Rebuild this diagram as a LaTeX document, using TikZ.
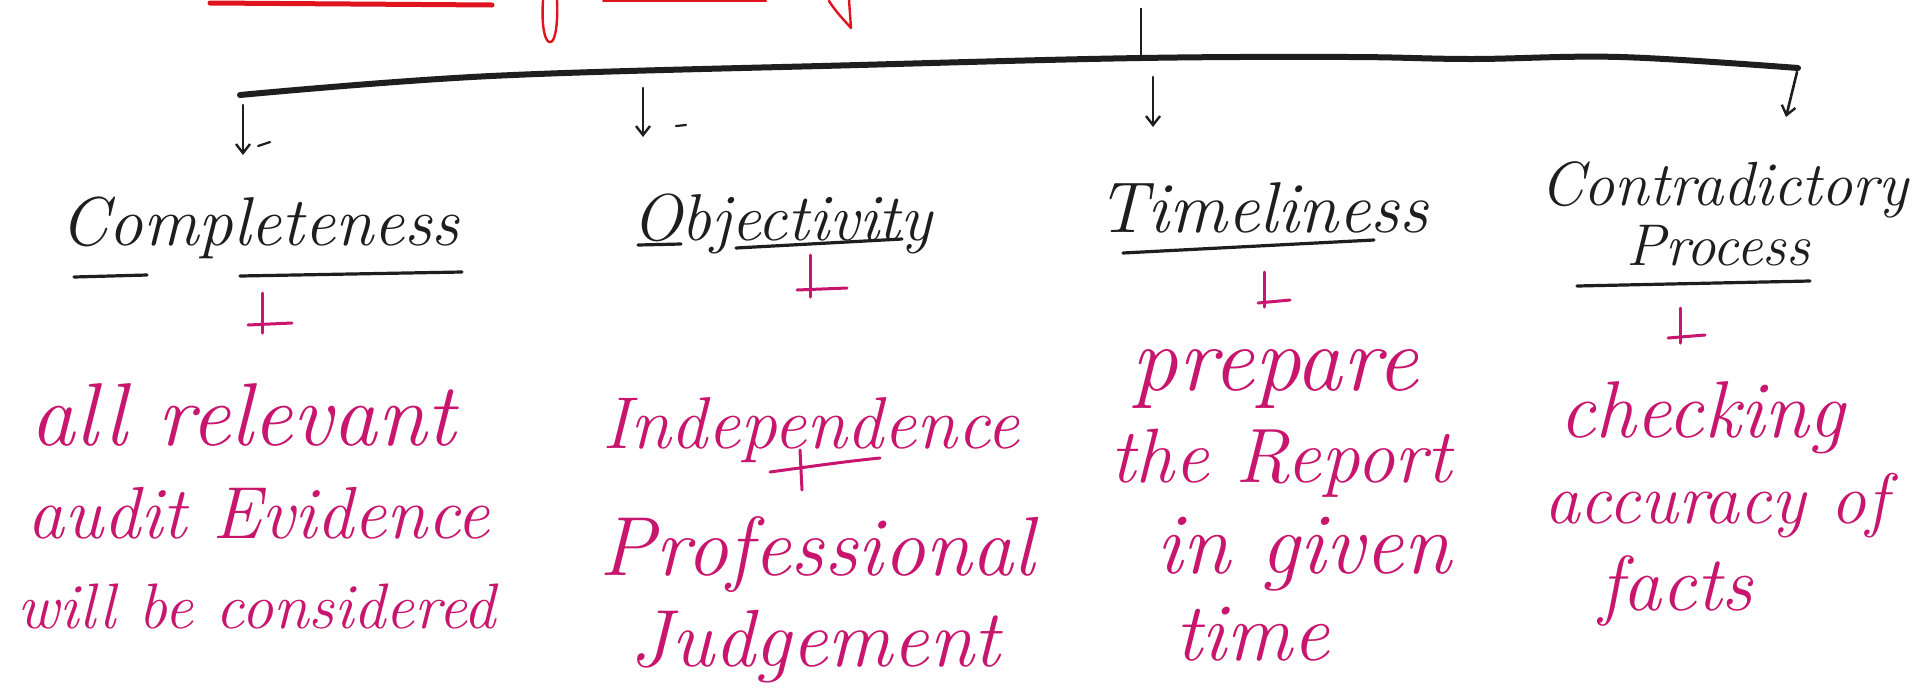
\documentclass[tikz,border=0pt]{standalone}
\usepackage{graphicx}
\usetikzlibrary{arrows.meta}
\definecolor{ink}{HTML}{1E1E1E}
\definecolor{pinkink}{HTML}{C8166E}
\definecolor{redink}{HTML}{E0141E}
\newcommand\fitw[2]{\resizebox{#1pt}{!}{\itshape #2}}
\tikzset{
  head/.style={anchor=base, inner sep=0pt, text=ink, font=\fontsize{60}{60}\selectfont},
  note/.style={anchor=base, inner sep=0pt, text=pinkink, font=\fontsize{60}{60}\selectfont},
  under/.style={draw=ink, line width=3.2pt, line cap=round},
  bar/.style={draw=ink, line width=6pt, line cap=round, line join=round},
  down/.style={draw=ink, line width=2.6pt, line cap=round, -{Straight Barb[length=9pt,width=14pt,line width=2.4pt]}},
  tick/.style={draw=pinkink, line width=3pt, line cap=round},
  redstroke/.style={draw=redink, line cap=round, line join=round},
}
\begin{document}
\begin{tikzpicture}[x=1pt,y=-1pt]
\fill[white] (0,0) rectangle (1924,689);
\useasboundingbox (0,0) rectangle (1924,689);

% cropped red heading strokes at the top
\draw[redstroke, line width=5pt] (210,3) -- (492,5);
\draw[redstroke, line width=2.4pt] (543,0) .. controls (541,30) and (546,44) .. (551,42) .. controls (556,40) and (558,20) .. (557,0);
\draw[redstroke, line width=2pt] (603,1) -- (766,1);
\draw[redstroke, line width=2.4pt] (829,1) .. controls (836,12) and (844,20) .. (851,28) -- (849,0);

% stem and main bar
\coordinate (top) at (1141,8);
\coordinate (stem) at (1141,58);
\draw[draw=ink, line width=2.4pt] (top) -- (stem);
\draw[bar] plot[smooth, tension=0.6] coordinates {(240,95) (491,76) (859,65) (1141,58) (1350,57) (1472,59) (1620,57) (1798,68)};

% branch arrows
\coordinate (b1) at (243,105);
\coordinate (b2) at (643,88);
\coordinate (b3) at (1153,77);
\coordinate (b4) at (1797,72);
\coordinate (e1) at (243,155);
\coordinate (e2) at (643,137);
\coordinate (e3) at (1153,127);
\coordinate (e4) at (1786,117);
\draw[down] (b1) -- (e1);
\draw[down] (b2) -- (e2);
\draw[down] (b3) -- (e3);
\draw[down] (b4) -- (e4);
\draw[draw=ink, line width=2.2pt, line cap=round] (258,146) -- (270,142);
\draw[draw=ink, line width=2.2pt, line cap=round] (676,126) -- (686,125);

% headings
\node[head] (c1) at (260,245) {\fitw{399}{Completeness}};
\node[head] (c2) at (782,240) {\fitw{300}{Objectivity}};
\node[head] (c3) at (1263,232) {\fitw{331}{Timeliness}};
\node[head] (c4a) at (1724,205) {\fitw{368}{Contradictory}};
\node[head] (c4b) at (1718,265) {\fitw{184}{Process}};
\draw[under] (74,277) -- (147,275);
\draw[under] (240,276) -- (462,272);
\draw[under] (638,245) -- (681,244);
\draw[under] (736,248) -- (902,239);
\draw[under] (1123,253) -- (1374,240);
\draw[under] (1577,286) -- (1810,281);

% pink down ticks
\coordinate (p1t) at (262,293); \coordinate (p1b) at (262,333);
\coordinate (p2t) at (810,255); \coordinate (p2b) at (810,297);
\coordinate (p3t) at (1264,272); \coordinate (p3b) at (1264,307);
\coordinate (p4t) at (1680,308); \coordinate (p4b) at (1680,343);
\draw[tick] (p1t) -- (p1b);
\draw[tick] (248,325) -- (292,323);
\draw[tick] (p2t) -- (p2b);
\draw[tick] (797,290) -- (847,288);
\draw[tick] (p3t) -- (p3b);
\draw[tick] (1258,303) -- (1290,300);
\draw[tick] (p4t) -- (p4b);
\draw[tick] (1668,338) -- (1705,335);

% notes
\node[note] (n1a) at (243,445) {\fitw{425}{all relevant}};
\node[note] (n1b) at (259,538) {\fitw{462}{audit Evidence}};
\node[note] (n1c) at (257,628) {\fitw{478}{will be considered}};

\node[note] (n2a) at (811,448) {\fitw{417}{Independence}};
\draw[tick] (770,472) .. controls (800,468) and (840,462) .. (880,458);
\draw[tick] (800,450) -- (802,490);
\node[note] (n2b) at (817,575) {\fitw{434}{Professional}};
\node[note] (n2c) at (815,666) {\fitw{370}{Judgement}};

\node[note] (n3a) at (1275,390) {\fitw{286}{prepare}};
\node[note] (n3b) at (1281,482) {\fitw{341}{the Report}};
\node[note] (n3c) at (1304,573) {\fitw{295}{in given}};
\node[note] (n3d) at (1252,660) {\fitw{154}{time}};

\node[note] (n4a) at (1702,437) {\fitw{286}{checking}};
\node[note] (n4b) at (1716,523) {\fitw{344}{accuracy of}};
\node[note] (n4c) at (1676,610) {\fitw{154}{facts}};
\end{tikzpicture}
\end{document}
